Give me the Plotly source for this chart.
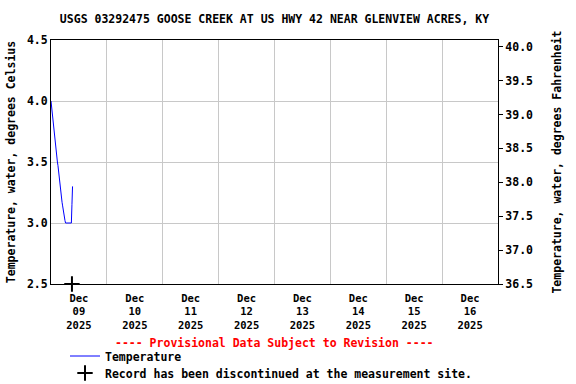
import plotly.graph_objects as go

# ---- data ----
times = [
    "2025-12-09 00:00", "2025-12-09 00:15", "2025-12-09 00:30", "2025-12-09 00:45",
    "2025-12-09 01:00", "2025-12-09 01:15", "2025-12-09 01:30", "2025-12-09 01:45",
    "2025-12-09 02:00", "2025-12-09 02:15", "2025-12-09 02:30", "2025-12-09 02:45",
    "2025-12-09 03:00", "2025-12-09 03:15", "2025-12-09 03:30", "2025-12-09 03:45",
    "2025-12-09 04:00", "2025-12-09 04:15", "2025-12-09 04:30", "2025-12-09 04:45",
    "2025-12-09 05:00", "2025-12-09 05:15", "2025-12-09 05:30", "2025-12-09 05:45",
    "2025-12-09 06:00", "2025-12-09 06:15", "2025-12-09 06:30", "2025-12-09 06:45",
    "2025-12-09 07:00", "2025-12-09 07:15", "2025-12-09 07:30", "2025-12-09 07:45",
    "2025-12-09 08:00", "2025-12-09 08:15", "2025-12-09 08:30", "2025-12-09 08:45",
    "2025-12-09 09:00", "2025-12-09 09:15",
]
temp_c = [
    4.0, 3.95, 3.9, 3.85, 3.8, 3.78, 3.75, 3.7,
    3.65, 3.6, 3.55, 3.5, 3.47, 3.42, 3.38, 3.34,
    3.3, 3.26, 3.2, 3.17, 3.14, 3.1, 3.08, 3.05,
    3.02, 3.0, 3.0, 3.0, 3.0, 3.0, 3.0, 3.0,
    3.0, 3.0, 3.0, 3.0, 3.15, 3.3,
]
discontinued_time = ["2025-12-09 09:00"]
discontinued_val = [2.5]

day_ticks = ["2025-12-09 12:00", "2025-12-10 12:00", "2025-12-11 12:00", "2025-12-12 12:00",
             "2025-12-13 12:00", "2025-12-14 12:00", "2025-12-15 12:00", "2025-12-16 12:00"]
day_labels = ["Dec<br>09<br>2025", "Dec<br>10<br>2025", "Dec<br>11<br>2025", "Dec<br>12<br>2025",
              "Dec<br>13<br>2025", "Dec<br>14<br>2025", "Dec<br>15<br>2025", "Dec<br>16<br>2025"]
x_range = ["2025-12-09 00:00", "2025-12-17 00:00"]
c_range = [2.5, 4.5]
f_ticks = [36.5, 37.0, 37.5, 38.0, 38.5, 39.0, 39.5, 40.0]
f_range = [c_range[0] * 1.8 + 32, c_range[1] * 1.8 + 32]

FONT = "DejaVu Sans Mono"
grid = "#c8c8c8"
TXT = dict(family=FONT, size=11.5, color="black", weight="bold")

fig = go.Figure()
fig.add_trace(go.Scatter(
    x=times, y=temp_c, mode="lines", name="Temperature",
    line=dict(color="#0000ff", width=1), legend="legend",
))
fig.add_trace(go.Scatter(
    x=discontinued_time, y=discontinued_val, mode="markers",
    name="Record has been discontinued at the measurement site.",
    marker=dict(symbol="cross-thin", size=11, line=dict(color="black", width=2), color="black"),
    cliponaxis=False, legend="legend2",
))
# invisible trace to activate right axis
fig.add_trace(go.Scatter(x=[x_range[0]], y=[f_range[0]], yaxis="y2", mode="markers",
                         marker=dict(opacity=0), showlegend=False, hoverinfo="skip"))

PLOT_H = 244
LEG_X = (65 - 51) / 447
fig.update_layout(
    width=576, height=384,
    margin=dict(l=51, r=78, t=40, b=100, autoexpand=False),
    paper_bgcolor="white", plot_bgcolor="white",
    font=TXT,
    title=dict(text="USGS 03292475 GOOSE CREEK AT US HWY 42 NEAR GLENVIEW ACRES, KY",
               x=0.5, xref="paper", xanchor="center",
               y=1 - 19 / 384, yref="container", yanchor="middle", font=TXT),
    xaxis=dict(
        type="date", range=x_range,
        tickvals=day_ticks, ticktext=day_labels, ticks="", ticklabelstandoff=4,
        showgrid=False, showline=True, linecolor="black", linewidth=1, mirror=True,
        tickfont=dict(size=10.5), zeroline=False, automargin=False,
        minor=dict(tick0="2025-12-09", dtick=86400000, showgrid=True,
                   gridcolor=grid, gridwidth=1, ticks=""),
    ),
    yaxis=dict(
        range=c_range, dtick=0.5, tick0=2.5, tickformat=".1f", ticks="",
        showgrid=True, gridcolor=grid, gridwidth=1, automargin=False,
        showline=True, linecolor="black", linewidth=1, mirror=True, zeroline=False,
        title=dict(text="Temperature, water, degrees Celsius", standoff=8, font=TXT),
    ),
    yaxis2=dict(
        overlaying="y", side="right", range=f_range, automargin=False,
        tickvals=f_ticks, tickformat=".1f", ticks="outside", ticklen=4, tickcolor="black",
        showgrid=False, showline=True, linecolor="black", zeroline=False,
        title=dict(text="Temperature, water, degrees Fahrenheit", standoff=20, font=TXT),
    ),
    legend=dict(
        x=LEG_X, xanchor="left", xref="paper",
        y=(284 - 356) / PLOT_H, yanchor="middle", yref="paper",
        bgcolor="rgba(0,0,0,0)", itemwidth=30, font=TXT,
    ),
    legend2=dict(
        x=LEG_X, xanchor="left", xref="paper",
        y=(284 - 373) / PLOT_H, yanchor="middle", yref="paper",
        bgcolor="rgba(0,0,0,0)", itemwidth=30, font=TXT,
    ),
    showlegend=True,
    annotations=[dict(
        text="---- Provisional Data Subject to Revision ----",
        xref="paper", yref="paper", x=0.5, y=(284 - 343) / PLOT_H,
        xanchor="center", yanchor="middle", showarrow=False,
        font=dict(color="red", size=11.5, family=FONT, weight="bold"),
    )],
)

fig.write_html("out.html")
